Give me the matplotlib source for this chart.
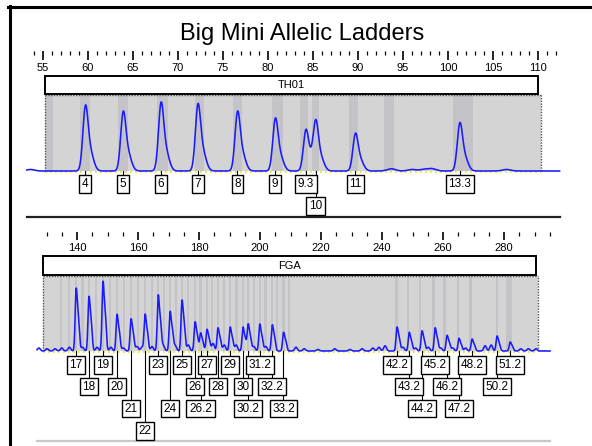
import numpy as np
import matplotlib.pyplot as plt
from matplotlib.patches import Rectangle
from matplotlib.lines import Line2D
from matplotlib.ticker import FixedLocator

plt.rcParams['font.family'] = ['Liberation Sans', 'DejaVu Sans']

# ---- TH01 ladder (size in bp, height in % of panel) ----
th01_alleles = ['4', '5', '6', '7', '8', '9', '9.3', '10', '11', '13.3']
th01_bp = [59.7, 63.9, 68.1, 72.2, 76.6, 80.8, 84.2, 85.3, 89.7, 101.3]
th01_height = [87, 79, 91, 89, 79, 70, 55, 63, 50, 64]
th01_row = [0, 0, 0, 0, 0, 0, 0, 1, 0, 0]
th01_minor_bp = [53.6, 93.7, 96.0, 97.3, 98.2, 106.5]
th01_minor_h = [2, 3, 2, 2, 3, 2]
th01_bins = [55.7, 59.65, 63.85, 68.3, 72.4, 76.6, 81.05, 84.0, 85.25, 89.5, 93.4, 101.7]
th01_bin_w = [0.8, 1.1, 1.1, 1.2, 1.0, 1.0, 1.3, 0.8, 0.8, 1.0, 1.1, 2.2]

# ---- FGA ladder ----
fga_alleles = ['17', '18', '19', '20', '21', '22', '23', '24', '25', '26', '26.2',
               '27', '28', '29', '30', '30.2', '31.2', '32.2', '33.2',
               '42.2', '43.2', '44.2', '45.2', '46.2', '47.2', '48.2', '50.2', '51.2']
fga_bp = [139.7, 143.9, 148.5, 153.1, 157.7, 162.3, 166.6, 170.5, 174.4, 178.7, 180.5,
          182.6, 186.2, 190.2, 194.4, 196.1, 199.9, 204.0, 207.7,
          244.9, 248.9, 253.1, 257.4, 261.3, 265.2, 269.5, 277.7, 282.0]
fga_height = [84, 73, 93, 49, 43, 49, 75, 53, 68, 39, 24,
              29, 31, 32, 32, 36, 36, 35, 25,
              32, 25, 27, 31, 21, 17, 16, 20, 12]
fga_row = [0, 1, 0, 1, 2, 3, 0, 2, 0, 1, 2,
           0, 1, 0, 1, 2, 0, 1, 2,
           0, 1, 2, 0, 1, 2, 0, 1, 0]
fga_minor_bp = [127.5, 130.2, 132.8, 135.0, 137.5, 141.8, 146.6, 151.1, 155.2, 159.7,
                161.3, 164.6, 168.3, 172.2, 176.5, 184.6, 188.3, 192.2, 198.0, 201.9,
                211.8, 214.5, 219.0, 224.5, 229.5, 233.5, 237.0, 239.0, 241.0, 246.9,
                251.0, 255.2, 259.3, 263.2, 267.4, 273.8, 275.8, 285.5, 288.0, 290.5]
fga_minor_h = [4, 3, 3, 4, 5, 5, 5, 5, 4, 6,
               5, 6, 7, 7, 8, 10, 8, 8, 6, 6,
               5, 3, 2, 3, 2, 3, 4, 5, 7, 5,
               4, 5, 4, 4, 4, 7, 8, 3, 3, 3]
fga_bins = [134.8, 137.5, 139.7, 141.8, 143.9, 146.2, 148.5, 150.8, 153.1, 155.4,
            157.7, 160.0, 162.3, 164.5, 166.6, 168.6, 170.5, 172.5, 174.4, 176.5,
            178.7, 180.5, 182.6, 184.4, 186.2, 188.2, 190.2, 192.3, 194.4, 196.1,
            197.9, 199.9, 201.8, 204.0, 205.7, 207.7, 209.5,
            244.7, 248.6, 252.5, 256.9, 260.5, 264.9, 269.0, 277.7, 281.7]
fga_bin_w = [0.7] * 37 + [0.8, 0.7, 0.7, 1.0, 0.8, 0.7, 0.9, 0.7, 1.8]

W, H = 592, 446
BLUE = '#1a1aff'
fig = plt.figure(figsize=(W / 100, H / 100), dpi=100)


def fy(px):
    return 1 - px / H


def trace(x, pos, hts, mpos, mhts, sig, off, rel, sig2):
    shape = lambda d: np.exp(-0.5 * (d / sig) ** 2) + rel * np.exp(-0.5 * ((d - off) / sig2) ** 2)
    norm = shape(np.linspace(-2, 2, 4001)).max()
    y = np.zeros_like(x)
    for p, h in zip(pos, hts):
        y += h * shape(x - p) / norm
    for p, h in zip(mpos, mhts):
        y += h * np.exp(-0.5 * ((x - p) / 0.45) ** 2)
    return y


def ruler(top_px, bot_px, xlim, major, minor, maj_len):
    r = fig.add_axes([0, fy(bot_px), 1, (bot_px - top_px) / H])
    r.set_xlim(*xlim)
    r.patch.set_visible(False)
    for s in r.spines.values():
        s.set_visible(False)
    r.set_yticks([])
    r.xaxis.set_major_locator(FixedLocator(major))
    r.xaxis.set_minor_locator(FixedLocator(minor))
    r.tick_params(axis='x', which='both', direction='in', top=True, bottom=False,
                  labelbottom=True, labeltop=False, color='black', pad=2.2,
                  labelsize=8)
    r.tick_params(axis='x', which='major', length=maj_len, width=1.2)
    r.tick_params(axis='x', which='minor', length=2.9, width=0.9)
    return r


def panel(ax, name, gray_x, box_top, bins, bin_w, x, y, pos, labels, rows, row_y, sep_y,
          sep_ext, sep_col, sep_lw):
    ax.set_axis_off()
    x0, x1 = gray_x
    ax.add_patch(Rectangle((x0, 0), x1 - x0, 100, fc='#d4d4d4', ec='none', zorder=0.5))
    for b, w in zip(bins, bin_w):
        ax.add_patch(Rectangle((b - w / 2, 0), w, 100, fc='#c4c4c8', ec='none', zorder=0.6))
    dot = dict(color='#555555', lw=1.0, ls=(0, (1, 1)), zorder=1)
    ax.plot([x0, x0], [0, 100], **dot)
    ax.plot([x1, x1], [0, 100], **dot)
    ax.plot([x0, x1], [100, 100], **dot)
    ax.plot([x0, x1], [-0.8, -0.8], color='#e6e600', lw=1.2, ls=(0, (1, 2)), zorder=1.5)
    ax.plot(x, y, color=BLUE, lw=1.15, zorder=2)
    # locus box
    ax.add_patch(Rectangle((x0, 101.3), box_top[0] - x0, box_top[1] - 101.3,
                           fc='white', ec='black', lw=1.4, zorder=3))
    ax.text((x0 + box_top[0]) / 2, (101.3 + box_top[1]) / 2, name, ha='center',
            va='center', fontsize=8, zorder=4)
    # allele labels
    for p, lab, r in zip(pos, labels, rows):
        yy = row_y[r]
        ax.plot([p, p], [0, yy], color='black', lw=0.8, zorder=2.5)
        ax.text(p, yy, lab, ha='center', va='center', fontsize=8.5, zorder=4,
                bbox=dict(boxstyle='square,pad=0.22', fc='white', ec='black', lw=1.0))
    ax.axhline(sep_y, xmin=sep_ext[0] / W, xmax=sep_ext[1] / W, color=sep_col, lw=sep_lw)


# ---- top panel: TH01 ----
ty = lambda px: (171 - px) / 0.76
ax1 = fig.add_axes([0, fy(222), 1, (222 - 70) / H])
xlim1 = (55 - 43 / 9, 55 + 549 / 9)
ax1.set_xlim(*xlim1)
ax1.set_ylim(ty(222), ty(70))
x1 = np.linspace(53.2, 112.4, 3000)
y1 = trace(x1, th01_bp, th01_height, th01_minor_bp, th01_minor_h, 0.28, 0.5, 0.35, 0.4)
panel(ax1, 'TH01', (55.22, 110.33), (110.0, ty(76)), th01_bins, th01_bin_w, x1, y1,
      th01_bp, th01_alleles, th01_row, [ty(184), ty(206)], ty(217), (27, 560), '#202020', 1.6)
ruler(51, 60, xlim1, np.arange(55, 111, 5), np.arange(54, 113, 1), 6.5)

# ---- bottom panel: FGA ----
by = lambda px: (351 - px) / 0.75
ax2 = fig.add_axes([0, 0, 1, (446 - 250) / H])
xlim2 = (140 - 77 / 3.05, 140 + 515 / 3.05)
ax2.set_xlim(*xlim2)
ax2.set_ylim(by(446), by(250))
x2 = np.linspace(126.9, 295.1, 4000)
y2 = trace(x2, fga_bp, fga_height, fga_minor_bp, fga_minor_h, 0.32, 0.7, 0.6, 0.38)
panel(ax2, 'FGA', (128.85, 291.15), (290.49, by(256)), fga_bins, fga_bin_w, x2, y2,
      fga_bp, fga_alleles, fga_row, [by(365), by(386.5), by(408.5), by(431)], by(441),
      (37, 550), '#c8c8c8', 1.6)
ruler(232, 240, xlim2, np.arange(140, 281, 20), np.arange(130, 296, 5), 5.8)

# frame and title
fig.add_artist(Line2D([9.5 / W, 9.5 / W], [fy(5.5), 0], color='black', lw=2.2))
fig.add_artist(Line2D([8 / W, 1], [fy(7), fy(7)], color='black', lw=2.2))
fig.text(302 / W, fy(40), 'Big Mini Allelic Ladders', ha='center', va='baseline', fontsize=17)

fig.savefig('out.png', dpi=100)
